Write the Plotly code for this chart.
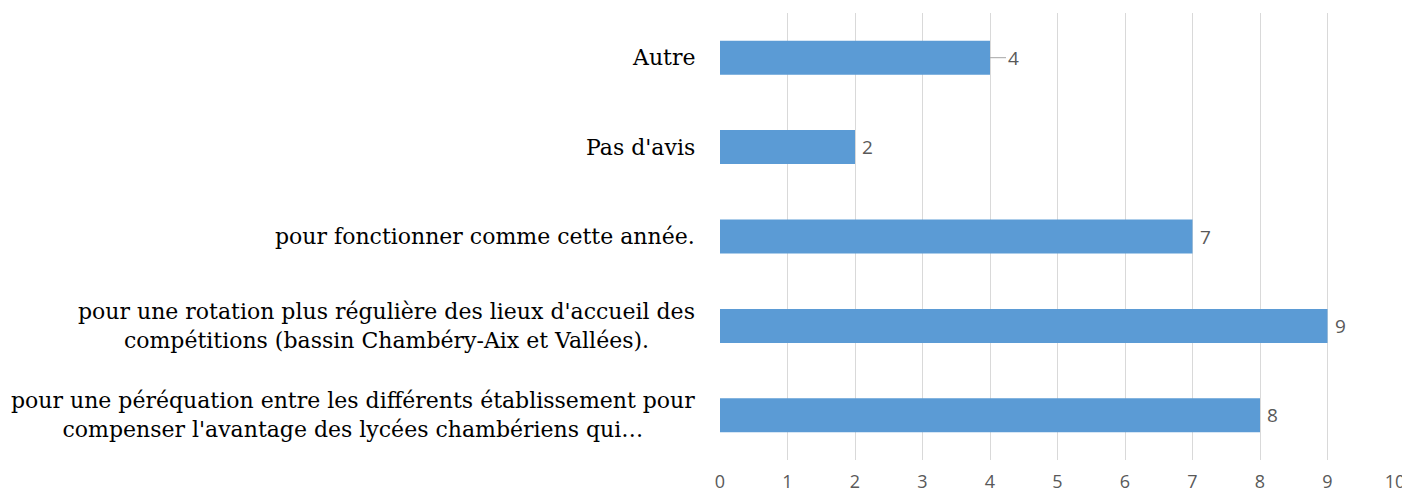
import plotly.graph_objects as go

categories = [
    "pour une péréquation entre les différents établissement pour<br>compenser l'avantage des lycées chambériens qui…",
    "pour une rotation plus régulière des lieux d'accueil des<br>compétitions (bassin Chambéry-Aix et Vallées).",
    "pour fonctionner comme cette année.",
    "Pas d'avis",
    "Autre",
]
values = [8, 9, 7, 2, 4]
x_ticks = list(range(0, 11))

label_font = dict(family="Open Sans, DejaVu Sans, sans-serif", size=19, color="#595959")

fig = go.Figure()
fig.add_trace(go.Bar(
    y=categories,
    x=values,
    orientation="h",
    marker=dict(color="#5b9bd5", line=dict(width=0)),
    hoverinfo="skip",
))

annotations = []
for c in categories:
    annotations.append(dict(
        xref="paper", yref="y", x=0, y=c, text=c,
        xanchor="right", yanchor="middle", align="center", xshift=-23,
        showarrow=False,
        font=dict(family="DejaVu Serif, serif", size=22, color="#000000"),
    ))

for c, v in zip(categories, values):
    if c == "Autre":
        annotations.append(dict(
            xref="x", yref="y", x=v, y=c, text=str(v), showarrow=True,
            arrowhead=0, arrowwidth=1, arrowcolor="#a6a6a6", ax=23, ay=0,
            xanchor="center", font=label_font,
        ))
    else:
        annotations.append(dict(
            xref="x", yref="y", x=v, y=c, text=str(v), showarrow=False,
            xanchor="left", xshift=5, font=label_font,
        ))

fig.update_layout(
    width=1402, height=484,
    margin=dict(l=712, r=15, t=5, b=32, autoexpand=False),
    plot_bgcolor="white", paper_bgcolor="white",
    bargap=0.62,
    showlegend=False,
    annotations=annotations,
    xaxis=dict(
        range=[0, 10], tickvals=x_ticks, showgrid=True, gridcolor="#d9d9d9", gridwidth=1,
        zeroline=False, showline=False, ticks="", automargin=False,
        tickfont=dict(family="Open Sans, DejaVu Sans, sans-serif", size=18, color="#595959"),
        ticklabelstandoff=9,
    ),
    yaxis=dict(
        showticklabels=False, showgrid=False, zeroline=False, showline=False, ticks="",
        categoryorder="array", categoryarray=categories, automargin=False,
    ),
)

fig.write_html("out.html")
